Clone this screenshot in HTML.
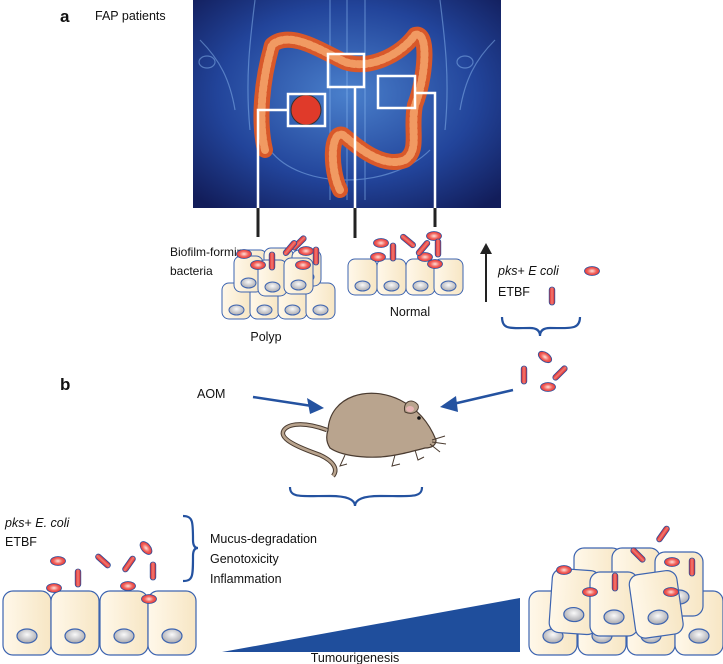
<!DOCTYPE html>
<html><head><meta charset="utf-8"><style>
html,body{margin:0;padding:0;background:#fff}
svg{display:block}
text{font-family:"Liberation Sans",sans-serif;fill:#111}
</style></head><body>
<svg width="723" height="664" viewBox="0 0 723 664" xmlns="http://www.w3.org/2000/svg">
<defs>
<radialGradient id="bg" cx="0.5" cy="0.45" r="0.7">
<stop offset="0" stop-color="#4a80cc"/><stop offset="0.6" stop-color="#22449a"/><stop offset="1" stop-color="#121d5a"/></radialGradient>
<radialGradient id="bac" cx="0.5" cy="0.5" r="0.6">
<stop offset="0" stop-color="#fde2dc"/><stop offset="0.5" stop-color="#f2615a"/><stop offset="1" stop-color="#d9252a"/></radialGradient>
<linearGradient id="rod" x1="0" x2="1"><stop offset="0" stop-color="#d9252a"/><stop offset="0.5" stop-color="#f47a70"/><stop offset="1" stop-color="#d9252a"/></linearGradient>
<radialGradient id="nuc" cx="0.5" cy="0.4" r="0.6"><stop offset="0" stop-color="#fafafa"/><stop offset="1" stop-color="#a8a8ae"/></radialGradient>
<linearGradient id="cellg" x1="0" x2="1"><stop offset="0" stop-color="#fff8ea"/><stop offset="1" stop-color="#f7e6c4"/></linearGradient>
<g id="ov"><ellipse cx="0" cy="0" rx="7.5" ry="4.5" fill="url(#bac)" stroke="#2d4f9c" stroke-width="0.8"/></g>
<g id="rd"><rect x="-2.8" y="-9" width="5.6" height="18" rx="2.8" fill="url(#rod)" stroke="#2d4f9c" stroke-width="0.8"/></g>
<g id="cell"><rect x="0" y="0" width="29" height="36" rx="7" fill="url(#cellg)" stroke="#3d64b0" stroke-width="1"/><ellipse cx="14.5" cy="27" rx="7.5" ry="5" fill="url(#nuc)" stroke="#3d64b0" stroke-width="1"/></g>
<g id="bcell"><rect x="0" y="0" width="48" height="64" rx="10" fill="url(#cellg)" stroke="#3d64b0" stroke-width="1.2"/><ellipse cx="24" cy="45" rx="10" ry="7" fill="url(#nuc)" stroke="#3d64b0" stroke-width="1.2"/></g>
</defs>

<rect x="193" y="0" width="308" height="208" fill="url(#bg)"/>
<g stroke="#8ab8f0" stroke-width="1.2" fill="none" opacity="0.5">
<path d="M255 0 C250 40 245 80 250 130 M440 0 C445 40 450 80 445 130"/>
<path d="M200 40 C220 60 230 80 235 110 M495 40 C475 60 465 80 460 110"/>
<path d="M330 0 L330 200 M365 0 L365 200 M347 0 L347 200"/>
<path d="M270 150 C300 190 390 190 430 150"/>
<ellipse cx="207" cy="62" rx="8" ry="6"/><ellipse cx="465" cy="62" rx="8" ry="6"/>
</g>
<g fill="none" stroke-linecap="round" stroke-linejoin="round">
<path d="M265 150 C258 120 262 80 272 45 C290 30 320 50 345 62 C370 70 400 55 415 35 C430 30 425 80 415 105 C410 130 420 150 405 160 C380 170 350 140 343 135 C330 130 330 170 340 190" stroke="#d8582a" stroke-width="16"/>
<path d="M265 150 C258 120 262 80 272 45 C290 30 320 50 345 62 C370 70 400 55 415 35 C430 30 425 80 415 105 C410 130 420 150 405 160 C380 170 350 140 343 135 C330 130 330 170 340 190" stroke="#f19a62" stroke-width="8" stroke-dasharray="3 3"/>
</g>
<circle cx="306" cy="110" r="15" fill="#e03a2a" stroke="#333" stroke-width="1"/>
<g fill="none" stroke="#fff" stroke-width="2.5">
<rect x="288" y="94" width="37" height="32"/>
<rect x="328" y="54" width="36" height="33"/>
<rect x="378" y="76" width="37" height="32"/>
<path d="M288 110 H258 V208 M355 87 V208 M415 93 H435 V208"/>
</g>
<g stroke="#222" stroke-width="3">
<path d="M258 208 V237 M355 208 V238 M435 208 V227"/>
</g>

<text x="60" y="22" font-size="17" font-weight="bold">a</text>
<text x="95" y="20" font-size="12.5">FAP patients</text>
<text x="170" y="256" font-size="12">Biofilm-forming</text>
<text x="170" y="275" font-size="12">bacteria</text>

<use href="#cell" x="222" y="283"/><use href="#cell" x="250" y="283"/><use href="#cell" x="278" y="283"/><use href="#cell" x="306" y="283"/>
<use href="#cell" x="238" y="250"/><use href="#cell" x="264" y="248"/><use href="#cell" x="292" y="250"/>
<use href="#cell" x="234" y="256"/><use href="#cell" x="258" y="260"/><use href="#cell" x="284" y="258"/>
<use href="#ov" x="244" y="254"/><use href="#ov" x="258" y="265"/><use href="#ov" x="306" y="251"/><use href="#ov" x="303" y="265"/>
<use href="#rd" transform="translate(272,261)"/><use href="#rd" transform="translate(299,243) rotate(45)"/><use href="#rd" transform="translate(316,256)"/><use href="#rd" transform="translate(290,248) rotate(40)"/>
<text x="266" y="341" font-size="12.5" text-anchor="middle">Polyp</text>

<use href="#cell" x="348" y="259"/><use href="#cell" x="377" y="259"/><use href="#cell" x="406" y="259"/><use href="#cell" x="434" y="259"/>
<use href="#ov" x="381" y="243"/><use href="#ov" x="378" y="257"/><use href="#ov" x="425" y="257"/><use href="#ov" x="435" y="264"/><use href="#ov" x="434" y="236"/>
<use href="#rd" transform="translate(393,252)"/><use href="#rd" transform="translate(408,241) rotate(-50)"/><use href="#rd" transform="translate(423,248) rotate(40)"/><use href="#rd" transform="translate(438,248)"/>
<text x="410" y="316" font-size="12.5" text-anchor="middle">Normal</text>

<path d="M486 302 V252" stroke="#222" stroke-width="2"/><path d="M480 254 L486 243 L492 254 Z" fill="#222"/>
<text x="498" y="275" font-size="12.5"><tspan font-style="italic">pks</tspan>+ <tspan font-style="italic">E coli</tspan></text>
<text x="498" y="296" font-size="12.5">ETBF</text>
<use href="#ov" x="592" y="271"/><use href="#rd" transform="translate(552,296)"/>
<path d="M502 317 C502 330 510 328 530 328 C538 328 540 332 540 336 C540 332 542 328 550 328 C570 328 580 330 580 317" fill="none" stroke="#2452a0" stroke-width="2.2"/>
<use href="#ov" transform="translate(545,357) rotate(35)"/><use href="#rd" transform="translate(524,375)"/><use href="#rd" transform="translate(560,373) rotate(45)"/><use href="#ov" x="548" y="387"/>

<text x="60" y="390" font-size="17" font-weight="bold">b</text>
<text x="197" y="398" font-size="12.5">AOM</text>
<path d="M253 397 L312 406" stroke="#2452a0" stroke-width="2.5"/><path d="M324 408 L307 398 L310 414 Z" fill="#2452a0"/>
<path d="M513 390 L453 404" stroke="#2452a0" stroke-width="2.5"/><path d="M440 407 L456 396 L458 412 Z" fill="#2452a0"/>

<path d="M327 430 C300 420 285 425 283 432 C281 440 300 448 320 455 C335 462 338 470 333 476" fill="none" stroke="#4a3b30" stroke-width="4.5"/>
<path d="M327 430 C300 420 285 425 283 432 C281 440 300 448 320 455 C335 462 338 470 333 476" fill="none" stroke="#b9a48e" stroke-width="2.5"/>
<path d="M328 430 C330 395 370 385 400 400 C420 410 430 425 436 440 C436 445 432 448 425 448 C410 452 395 456 380 457 C360 458 340 455 330 448 C326 442 326 436 328 430 Z" fill="#b9a48e" stroke="#4a3b30" stroke-width="1.2"/>
<path d="M405 412 C402 402 412 397 418 405 C420 410 414 416 405 412 Z" fill="#b9a48e" stroke="#4a3b30" stroke-width="1"/>
<ellipse cx="410" cy="409" rx="4" ry="3" fill="#e7b4b4"/>
<circle cx="419" cy="418" r="1.8" fill="#111"/>
<path d="M432 440 L445 436 M432 442 L446 444 M430 444 L440 452 M345 455 L340 466 L347 464 M395 455 L392 466 L400 464 M415 450 L418 460 L424 457" stroke="#4a3b30" stroke-width="1" fill="none"/>
<path d="M290 487 C290 498 300 496 330 496 C348 496 355 500 355 506 C355 500 362 496 380 496 C412 496 422 498 422 487" fill="none" stroke="#2452a0" stroke-width="2.2"/>

<text x="5" y="527" font-size="12.5"><tspan font-style="italic">pks</tspan>+ <tspan font-style="italic">E. coli</tspan></text>
<text x="5" y="546" font-size="12.5">ETBF</text>
<path d="M183 516 C193 516 193 522 193 540 C193 546 195 548 198 548 C195 548 193 550 193 556 C193 576 193 581 183 581" fill="none" stroke="#2452a0" stroke-width="2.2"/>
<text x="210" y="543" font-size="12.5">Mucus-degradation</text>
<text x="210" y="563" font-size="12.5">Genotoxicity</text>
<text x="210" y="583" font-size="12.5">Inflammation</text>
<use href="#bcell" x="3" y="591"/><use href="#bcell" x="51" y="591"/><use href="#bcell" x="100" y="591"/><use href="#bcell" x="148" y="591"/>
<use href="#ov" x="54" y="588"/><use href="#ov" x="128" y="586"/><use href="#ov" x="149" y="599"/><use href="#ov" x="58" y="561"/>
<use href="#rd" transform="translate(78,578)"/><use href="#rd" transform="translate(103,561) rotate(-48)"/><use href="#rd" transform="translate(129,564) rotate(35)"/><use href="#rd" transform="translate(153,571)"/><use href="#ov" transform="translate(146,548) rotate(50)"/>

<path d="M222 652 L520 598 L520 652 Z" fill="#1f4e9c"/>
<text x="355" y="662" font-size="12.5" text-anchor="middle">Tumourigenesis</text>

<use href="#bcell" x="529" y="591"/><use href="#bcell" x="578" y="591"/><use href="#bcell" x="627" y="591"/><use href="#bcell" x="675" y="591"/>
<g transform="translate(574,548)"><use href="#bcell"/></g>
<g transform="translate(612,548)"><use href="#bcell"/></g>
<g transform="translate(655,552)"><use href="#bcell"/></g>
<g transform="translate(553,568) rotate(4)"><use href="#bcell"/></g>
<g transform="translate(590,572)"><use href="#bcell"/></g>
<g transform="translate(628,576) rotate(-8)"><use href="#bcell"/></g>
<use href="#ov" x="564" y="570"/><use href="#ov" x="590" y="592"/><use href="#ov" x="672" y="562"/><use href="#ov" x="671" y="592"/>
<use href="#rd" transform="translate(615,582)"/><use href="#rd" transform="translate(638,555) rotate(-45)"/><use href="#rd" transform="translate(663,534) rotate(35)"/><use href="#rd" transform="translate(692,567)"/>
</svg>
</body></html>
